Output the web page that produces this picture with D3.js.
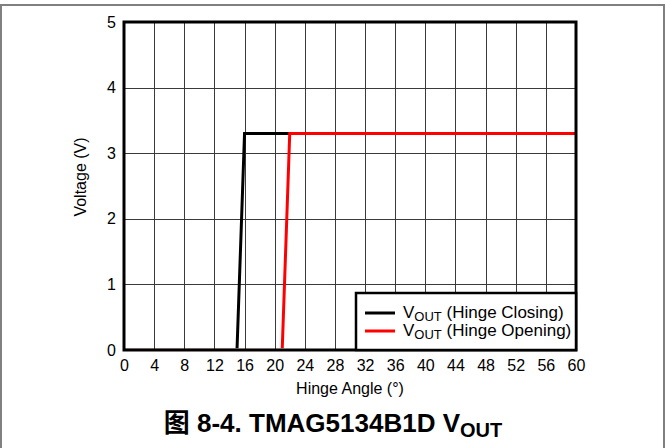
<!DOCTYPE html>
<html><head><meta charset="utf-8">
<script src="https://cdn.jsdelivr.net/npm/d3@7"></script>
<style>
html,body{margin:0;padding:0;background:#fff;}
text{font-family:"Liberation Sans",Arial,"Noto Sans CJK SC",sans-serif;}
</style></head>
<body><svg id="c" width="666" height="448"></svg>
<script>
const xTicks = [0,4,8,12,16,20,24,28,32,36,40,44,48,52,56,60];
const yTicks = [0,1,2,3,4,5];
const closingX = [0,15,16,60];
const closingY = [0,0,3.3,3.3];
const openingX = [0,21,22,60];
const openingY = [0,0,3.3,3.3];
const seriesNames = ["Hinge Closing","Hinge Opening"];
const seriesColors = ["#000000","#ff0000"];

const svg = d3.select("#c");
const L=124,R=576,T=22,B=350;
const x = d3.scaleLinear().domain([0,60]).range([L,R]);
const y = d3.scaleLinear().domain([0,5]).range([B,T]);

svg.append("defs").append("clipPath").attr("id","clip")
  .append("rect").attr("x",L).attr("y",T).attr("width",R-L).attr("height",B-T-1.7);

// outer frame
svg.append("rect").attr("x",1).attr("y",5).attr("width",663).attr("height",480)
  .attr("fill","none").attr("stroke","#808080").attr("stroke-width",2);

// grid
svg.append("g").selectAll("line").data(xTicks).join("line")
  .attr("x1",d=>Math.round(x(d))+0.5).attr("x2",d=>Math.round(x(d))+0.5)
  .attr("y1",T).attr("y2",B).attr("stroke","#3a3a3a").attr("stroke-width",1);
svg.append("g").selectAll("line").data(yTicks).join("line")
  .attr("y1",d=>Math.round(y(d))+0.5).attr("y2",d=>Math.round(y(d))+0.5)
  .attr("x1",L).attr("x2",R).attr("stroke","#3a3a3a").attr("stroke-width",1);

// axes labels via d3 axes
const ax = svg.append("g").attr("transform",`translate(0,${B})`)
  .call(d3.axisBottom(x).tickValues(xTicks).tickSize(0).tickPadding(10));
ax.select(".domain").remove();
ax.selectAll("text").attr("font-size",16).attr("fill","#000")
  .style("font-family","'Liberation Sans',Arial,sans-serif");
const ay = svg.append("g").attr("transform",`translate(${L},0)`)
  .call(d3.axisLeft(y).tickValues(yTicks).tickSize(0).tickPadding(8).tickFormat(d3.format("d")));
ay.select(".domain").remove();
ay.selectAll("text").attr("font-size",16).attr("fill","#000")
  .style("font-family","'Liberation Sans',Arial,sans-serif");

// series
const line = d3.line().x(d=>x(d[0])).y(d=>y(d[1]));
const s1 = closingX.map((v,i)=>[v,closingY[i]]);
const s2 = openingX.map((v,i)=>[v,openingY[i]]);
const sg = svg.append("g").attr("clip-path","url(#clip)");
sg.append("path").attr("d",line(s1)).attr("fill","none").attr("stroke",seriesColors[0]).attr("stroke-width",3);
sg.append("path").attr("d",line(s2)).attr("fill","none").attr("stroke",seriesColors[1]).attr("stroke-width",3);

// plot frame
svg.append("rect").attr("x",L).attr("y",T).attr("width",R-L).attr("height",B-T)
  .attr("fill","none").attr("stroke","#000").attr("stroke-width",3);

// legend
const lg = svg.append("g");
lg.append("rect").attr("x",356).attr("y",293).attr("width",R-356).attr("height",B-293)
  .attr("fill","#fff").attr("stroke","#000").attr("stroke-width",2.5);
seriesNames.forEach((n,i)=>{
  const yy = 313 + i*18;
  lg.append("line").attr("x1",365).attr("x2",395).attr("y1",yy).attr("y2",yy)
    .attr("stroke",seriesColors[i]).attr("stroke-width",3);
  const t = lg.append("text").attr("x",403).attr("y",yy+5).attr("font-size",17).attr("fill","#000");
  t.append("tspan").text("V");
  t.append("tspan").attr("font-size",13).attr("dy",3).text("OUT");
  t.append("tspan").attr("dy",-3).text(" ("+n+")");
});

// axis titles
svg.append("text").attr("x",350).attr("y",394).attr("text-anchor","middle").attr("font-size",16).text("Hinge Angle (°)");
svg.append("text").attr("transform","translate(86,177) rotate(-90)").attr("text-anchor","middle").attr("font-size",16).text("Voltage (V)");

// caption
const cap = svg.append("text").attr("x",333).attr("y",432).attr("text-anchor","middle")
  .attr("font-size",26).attr("font-weight","bold").attr("fill","#000");
cap.append("tspan").text("图 8-4. TMAG5134B1D V");
cap.append("tspan").attr("font-size",20).attr("dy",5).text("OUT");
</script></body></html>
